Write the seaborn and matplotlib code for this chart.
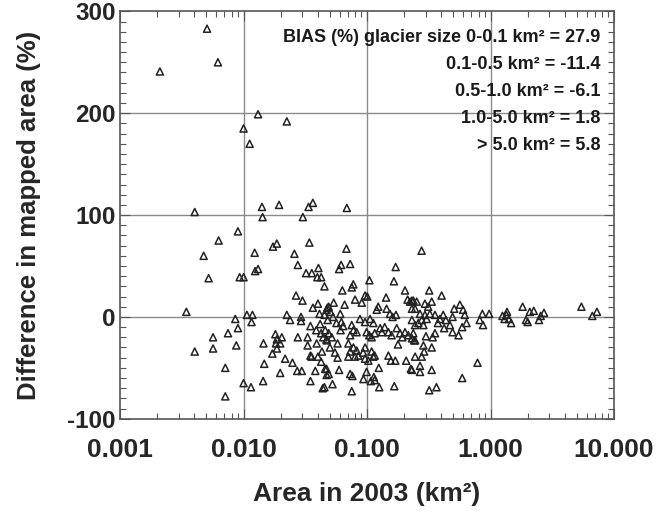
import matplotlib
matplotlib.use("Agg")
import matplotlib.pyplot as plt
import seaborn as sns
import pandas as pd
from matplotlib.ticker import MultipleLocator, LogLocator, NullFormatter

# glacier area in 2003 (km2) and difference in mapped area (%)
area = [
    0.0021, 0.00506, 0.0062, 0.0100, 0.0112, 0.0131, 0.0224, 0.00402, 0.0141, 0.0194,
    0.0336, 0.0364, 0.0686, 0.00344, 0.00402, 0.00475, 0.00521, 0.00628, 0.00566, 0.00566,
    0.00711, 0.00711, 0.00748, 0.0090, 0.00857, 0.0090, 0.00873, 0.0093, 0.0100, 0.0100,
    0.01148, 0.01064, 0.0118, 0.0116, 0.0123, 0.0124, 0.0131, 0.01425, 0.0302, 0.0173,
    0.0186, 0.0258, 0.0341, 0.0275, 0.0321, 0.0357, 0.0404, 0.0396, 0.0425, 0.0452,
    0.0266, 0.030, 0.0364, 0.0400, 0.0412, 0.0477, 0.0224, 0.0238, 0.0292, 0.0292,
    0.0348, 0.0388, 0.0417, 0.0458, 0.0425, 0.0181, 0.0186, 0.0204, 0.0198, 0.0183,
    0.0186, 0.0145, 0.0275, 0.0330, 0.0330, 0.0391, 0.0442, 0.0471, 0.0171, 0.0217,
    0.0249, 0.0348, 0.0355, 0.0400, 0.0431, 0.0425, 0.0147, 0.0198, 0.0272, 0.0296,
    0.0381, 0.0458, 0.0471, 0.0144, 0.0348, 0.0438, 0.0452,
    0.0681, 0.0730, 0.0617, 0.0594, 0.1706, 0.1045, 0.165, 0.203, 0.0631, 0.0774,
    0.0752, 0.080, 0.0906, 0.0964, 0.1005, 0.1426, 0.213, 0.223, 0.237, 0.0658,
    0.0607, 0.0537, 0.0489, 0.0505, 0.047, 0.1233, 0.1197, 0.144, 0.1533, 0.1715,
    0.161, 0.0877, 0.0963, 0.1057, 0.1125, 0.0452, 0.048, 0.053, 0.0565, 0.062,
    0.064, 0.061, 0.0752, 0.0776, 0.073, 0.0824, 0.0991, 0.1043, 0.1090, 0.1154,
    0.1276, 0.1320, 0.139, 0.149, 0.158, 0.174, 0.185, 0.193, 0.203, 0.216,
    0.237, 0.241, 0.178, 0.0489, 0.0518, 0.0470, 0.0500, 0.0577, 0.055, 0.0577,
    0.0706, 0.0776, 0.073, 0.0824, 0.080, 0.0706, 0.0851, 0.093, 0.0964, 0.109,
    0.1125, 0.1154, 0.0963, 0.1025, 0.149, 0.156, 0.1693, 0.2075, 0.2265, 0.047,
    0.0489, 0.0594, 0.073, 0.0761, 0.0991, 0.0935, 0.1075, 0.1154, 0.1135, 0.1255,
    0.1245, 0.0525, 0.0752, 0.1662,
    0.2768, 0.319, 0.402, 0.231, 0.2525, 0.245, 0.231, 0.2943, 0.313, 0.334,
    0.323, 0.2943, 0.304, 0.2686, 0.277, 0.26, 0.286, 0.245, 0.231, 0.355,
    0.389, 0.375, 0.414, 0.435, 0.421, 0.469, 0.493, 0.508, 0.565, 0.600,
    0.619, 0.639, 0.59, 0.493, 0.551, 0.30, 0.34, 0.355, 0.231, 0.245,
    0.286, 0.334, 0.29, 0.277, 0.245, 0.2686, 0.231, 0.2686, 0.334, 0.785,
    0.59, 0.319, 0.365, 0.86, 0.975, 0.818, 0.87,
    1.25, 1.346, 1.36, 1.41, 1.47, 1.30, 1.82, 1.94, 2.0, 2.08,
    2.24, 2.47, 2.55, 2.71, 5.45, 6.68, 7.28,
]
diff = [
    241, 283, 250, 185, 170, 199, 192, 103, 108, 110,
    108, 112, 107, 5, -34, 60, 38, 75, -20, -31,
    -50, -78, -16, 84, -2, -11, -28, 39, 39, -65,
    -69, 2, 2, -5, 63, 45, 47, 98, 98, 69,
    72, 62, 73, 51, 43, 43, 48, 39, 39, 30,
    21, 16, 9, 13, 3, 9, 2, -3, 0, -4,
    -9, -13, -7, -13, -16, -17, -22, -20, -26, -26,
    -31, -26, -20, -20, -28, -26, -20, -23, -36, -41,
    -45, -38, -39, -39, -34, -44, -46, -55, -53, -53,
    -53, -51, -57, -63, -63, -70, -69,
    67, 52, 51, 47, 49, 36, 35, 26, 26, 32,
    29, 17, 14, 21, 20, 19, 17, 15, 16, 12,
    3, 14, 10, 5, 7, 10, 7, 8, 3, 2,
    0, -2, -5, -2, -6, 2, -3, 0, -6, -5,
    -9, -13, -8, -13, -18, -15, -15, -18, -20, -16,
    -11, -15, -10, -15, -18, -11, -16, -20, -15, -18,
    -16, -23, -27, -16, -20, -22, -30, -26, -35, -40,
    -26, -30, -34, -33, -39, -39, -38, -35, -30, -34,
    -39, -38, -41, -43, -38, -43, -43, -43, -51, -51,
    -56, -52, -56, -58, -54, -61, -63, -62, -59, -69,
    -50, -66, -73, -68,
    65, 26, 21, 16, 15, 8, 8, 13, 10, 15,
    3, 2, -2, 3, -3, -6, -8, -8, -3, 2,
    -2, -6, 2, -3, -11, -8, 0, 8, 12, 7,
    2, -6, -10, -15, -18, -19, -20, -16, -21, -23,
    -28, -30, -34, -39, -39, -48, -52, -54, -52, -45,
    -60, -72, -69, 3, 3, -3, -8,
    1, 2, 5, -2, -6, -2, 10, -3, -5, 5,
    6, -3, 1, 4, 10, 1, 5,
]

x_ticks = [0.001, 0.01, 0.1, 1, 10]
x_tick_labels = ["0.001", "0.010", "0.100", "1.000", "10.000"]
y_ticks = [-100, 0, 100, 200, 300]
grid_x = [0.01, 0.1, 1]
grid_y = [0, 100, 200]

bias_lines = [
    "BIAS (%) glacier size 0-0.1 km² = 27.9",
    "0.1-0.5 km² = -11.4",
    "0.5-1.0 km² = -6.1",
    "1.0-5.0 km² = 1.8",
    "> 5.0 km² = 5.8",
]

df = pd.DataFrame({"area": area, "diff": diff})

sns.set_style("ticks")
plt.rcParams["font.family"] = ["Liberation Sans", "DejaVu Sans"]
plt.rcParams["font.weight"] = "bold"
plt.rcParams["axes.unicode_minus"] = False

fig = plt.figure(figsize=(6.71, 5.17), dpi=100)
ax = fig.add_axes([0.179, 0.19, 0.736, 0.788])

for gx in grid_x:
    ax.axvline(gx, color="#8a8a8a", lw=1.0, zorder=0)
for gy in grid_y:
    ax.axhline(gy, color="#8a8a8a", lw=1.0, zorder=0)

sns.scatterplot(data=df, x="area", y="diff", ax=ax, marker="^", s=26,
                facecolors="none", edgecolor="#222222", linewidth=1.1,
                legend=False, zorder=3)

ax.set_xscale("log")
ax.set_xlim(0.001, 10)
ax.set_ylim(-100, 300)
ax.set_xticks(x_ticks)
ax.set_xticklabels(x_tick_labels)
ax.xaxis.set_minor_locator(LogLocator(base=10, subs=range(2, 10), numticks=20))
ax.xaxis.set_minor_formatter(NullFormatter())
ax.set_yticks(y_ticks)
ax.set_yticklabels([str(v) for v in y_ticks])
ax.yaxis.set_minor_locator(MultipleLocator(10))

ax.tick_params(which="both", direction="in", top=True, right=True,
               color="#555555", width=0.8)
ax.tick_params(which="major", length=7)
ax.tick_params(which="minor", length=4)
ax.tick_params(axis="x", which="major", labelsize=19, pad=14)
ax.tick_params(axis="y", which="major", labelsize=17.5, pad=3)
for s in ax.spines.values():
    s.set_color("#555555")
    s.set_linewidth(1.2)

ax.set_xlabel("Area in 2003 (km²)", fontsize=19, fontweight="bold")
ax.set_ylabel("Difference in mapped area (%)", fontsize=18.5, fontweight="bold")
ax.xaxis.set_label_coords(0.5, -0.155)
ax.yaxis.set_label_coords(-0.16, 0.5)

for i, line in enumerate(bias_lines):
    ax.text(0.972, 0.935 - i * 0.066, line, transform=ax.transAxes,
            ha="right", va="center", fontsize=13, fontweight="bold", color="#1a1a1a")

fig.savefig("out.png", dpi=100)
